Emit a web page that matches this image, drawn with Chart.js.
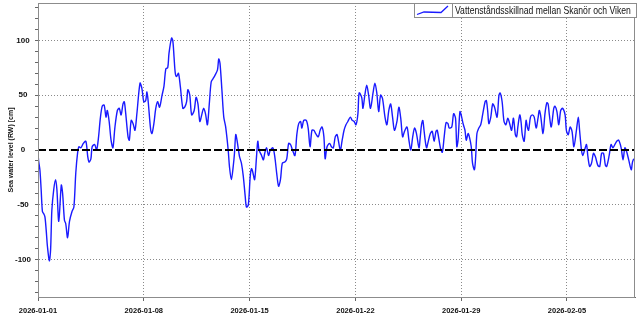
<!DOCTYPE html>
<html>
<head>
<meta charset="utf-8">
<script src="https://cdn.jsdelivr.net/npm/chart.js@4/dist/chart.umd.min.js"></script>
<style>
  html, body { margin: 0; padding: 0; background: #fff; }
  #wrap { width: 639px; height: 320px; }
</style>
</head>
<body>
<div id="wrap"><canvas id="grafico" width="639" height="320"></canvas></div>
<script>
// timmar sedan 2026-01-01 00:00 och nivåskillnad i cm
const hoursSinceStart = [
  0, 1, 3, 5, 7, 9, 11, 13, 15, 18, 20, 22, 25, 28, 30, 33, 37, 39, 42, 44, 47, 50, 54, 57, 60, 63, 65, 68, 72, 76,
  79, 81, 84, 86, 90, 93, 96, 99, 102, 105, 108, 110, 113, 116, 119, 122, 126, 129, 132, 135, 137, 139, 143, 145, 148, 151, 154, 157,
  162, 165, 168, 171, 173, 175, 179, 181, 184, 187, 190, 193, 197, 200, 203, 206, 208, 212, 214, 216, 218, 220, 223, 226, 230, 233,
  236, 238, 241, 244, 248, 251, 254, 257, 260, 263, 266, 269, 272, 275, 278, 281, 285, 287, 289, 292, 295, 298, 302, 304, 307, 310, 312, 314,
  316, 320, 323, 326, 329, 331, 334, 337, 339, 341, 344, 347, 349, 351, 355, 358, 360, 363, 366, 369, 373, 376, 379, 382, 385, 388,
  392, 395, 398, 401, 404, 408, 411, 414, 417, 419, 422, 426, 429, 432, 435, 438, 441, 445, 448, 451, 454, 456, 459, 463, 466, 469, 472, 475,
  480, 483, 486, 489, 492, 496, 499, 502, 505, 508, 510, 514, 516, 519, 522, 525, 528, 532, 535, 538, 541, 544, 547, 551, 554, 557,
  560, 563, 566, 570, 573, 576, 579, 582, 586, 589, 592, 595, 598, 601, 605, 607, 609, 611, 613, 615, 617, 619, 623, 626, 629, 632, 634,
  639, 642, 645, 648, 651, 653, 657, 660, 663, 665, 667, 670, 672, 675, 678, 680, 683, 685, 688, 690, 693, 695, 697, 700, 703, 706,
  710, 712, 714, 716, 719, 722, 725, 729, 732, 734, 737, 740, 743, 746, 749, 752, 755, 758, 760, 762, 765, 767, 769, 772, 775, 777, 779,
  782, 785, 788, 791,
  794, 796, 798, 802, 805, 808, 810, 812, 815, 819, 821, 824, 827, 830, 833, 837, 839, 842, 845, 848, 851, 855, 858, 860, 863, 865,
  868, 871, 873, 876, 879, 882, 885, 889, 892, 895, 898, 901, 903, 907, 910, 913, 916, 919, 922, 926, 929, 932, 935, 938, 942, 944, 946
]
const levelCm = [
  -2, -10, -18, -36, -56, -58, -61, -73, -88, -101, -91, -55, -36, -27, -36, -65, -32, -39, -64, -67, -80, -65, -56, -52, -21, -2, 3, 2, 6, 8,
  -6, -11, -8, 3, 5, 0, 11, 29, 40, 41, 30, 36, 26, 9, 2, 20, 36, 38, 32, 42, 44, 35, 12, 9, 27, 24, 18, 33,
  61, 56, 44, 45, 53, 44, 18, 15, 24, 38, 44, 39, 50, 58, 74, 75, 88, 102, 100, 85, 70, 67, 70, 58, 38, 39,
  44, 55, 50, 32, 36, 48, 42, 26, 32, 38, 33, 23, 42, 62, 65, 68, 73, 83, 79, 55, 30, 21, 0, -15, -27, -15, -3, 14,
  9, -6, -12, -24, -42, -52, -50, -24, -17, -20, -27, -6, 8, 0, -5, -9, -3, 2, -5, 0, 2, -6, -21, -33, -27, -12,
  -11, -8, 6, 5, 0, -5, 14, 24, 26, 20, 27, 27, 20, 3, 18, 18, 15, 12, 18, 21, 12, -8, 3, 6, 3, 2, 12, 14,
  0, 9, 18, 23, 26, 30, 27, 26, 23, 33, 52, 48, 38, 50, 59, 50, 38, 52, 61, 52, 35, 50, 47, 30, 23, 36,
  42, 30, 18, 26, 39, 29, 12, 17, 21, 9, 0, 12, 20, 15, 2, 12, 23, 27, 18, 8, 2, 6, 15, 17, 8, 17, 18,
  2, -2, 12, 25, 24, 20, 21, 33, 29, 3, 9, 35, 32, 24, 18, 9, 15, 12, 3, -12, -18, -6, 15, 20, 23, 32,
  44, 45, 36, 24, 30, 42, 39, 30, 50, 52, 44, 26, 23, 29, 24, 18, 29, 14, 12, 21, 32, 26, 14, 8, 27, 21, 18,
  30, 32, 30, 20,
  29, 36, 32, 15, 33, 43, 42, 32, 21, 38, 40, 35, 23, 36, 38, 32, 18, 14, 21, 17, 3, 18, 30, 18, 0, -5,
  0, 5, -5, -15, -12, -3, -6, -14, -15, -3, -3, -14, -15, -5, 5, 2, 5, 8, 9, 2, -9, 2, -2, -9, -18, -11, -8
]

const tickLabels = ['2026-01-01', '2026-01-08', '2026-01-15', '2026-01-22', '2026-01-29', '2026-02-05']
const tickHours = [0, 168, 336, 504, 672, 840]
const yTicks = [-130, -120, -110, -100, -90, -80, -70, -60, -50, -40, -30, -20, -10, 0, 10, 20, 30, 40, 50, 60, 70, 80, 90, 100, 110, 120, 130]
const xMin = 0
const xMax = 948
const yMin = -134
const yMax = 134
const referenceLevel = 0

const seriesName = 'Vattenståndsskillnad mellan Skanör och Viken'
const axisTitle = 'Sea water level (RW) [cm]'

const fontFam = 'Arial, "Liberation Sans", sans-serif'

const punkter = hoursSinceStart.map((h, i) => ({ x: h, y: levelCm[i] }))

// ram runt ritytan + legendruta uppe till höger
const ramOchLegend = {
  id: 'ramOchLegend',
  afterDraw(chart) {
    const { ctx, chartArea: a } = chart
    ctx.save()
    ctx.strokeStyle = '#8c8c8c'
    ctx.lineWidth = 1
    ctx.strokeRect(a.left + 0.5, a.top + 0.5, a.right - a.left - 1, a.bottom - a.top)

    // legend
    const bx = 414, by = 3, bw = 222, bh = 14
    ctx.fillStyle = '#fff'
    ctx.fillRect(bx, by, bw, bh)
    ctx.strokeStyle = '#8c8c8c'
    ctx.strokeRect(bx + 0.5, by + 0.5, bw, bh)
    ctx.beginPath()
    ctx.moveTo(452.5, by)
    ctx.lineTo(452.5, by + bh)
    ctx.stroke()
    ctx.strokeStyle = '#1a1aff'
    ctx.lineWidth = 1.3
    ctx.beginPath()
    ctx.moveTo(417, 14.5)
    ctx.lineTo(424, 12)
    ctx.lineTo(441, 12.5)
    ctx.lineTo(448, 6)
    ctx.stroke()
    // smal text, som i originalet
    ctx.fillStyle = '#111'
    ctx.font = '10.5px ' + fontFam
    ctx.textBaseline = 'middle'
    ctx.translate(455, by + bh / 2 + 1)
    ctx.scale(0.82, 1)
    ctx.fillText(seriesName, 0, 0)
    ctx.restore()
  }
}

const contenedor = document.getElementById('grafico')
const grafico = new Chart(contenedor, {
  type: 'line',
  data: {
    datasets: [{
      label: 'noll',
      data: [{ x: xMin, y: referenceLevel }, { x: xMax, y: referenceLevel }],
      borderColor: '#000',
      borderWidth: 1.8,
      borderDash: [8, 3],
      pointRadius: 0,
      order: 0
    }, {
      label: seriesName,
      data: punkter,
      borderColor: '#1a1aff',
      borderWidth: 1.4,
      tension: 0.3,
      pointRadius: 0,
      order: 1
    }]
  },
  options: {
    responsive: false,
    animation: false,
    layout: { padding: { top: 3, right: 4, left: 0, bottom: 0 } },
    plugins: { legend: { display: false }, tooltip: { enabled: false } },
    scales: {
      x: {
        type: 'linear',
        min: xMin,
        max: xMax,
        afterBuildTicks: s => { s.ticks = tickHours.map(v => ({ value: v })) },
        afterFit: s => { s.height = 23; s.paddingLeft = 0; s.paddingRight = 0 },
        ticks: {
          autoSkip: false,
          maxRotation: 0,
          padding: 5,
          color: '#111',
          font: { family: fontFam, size: 7.5, weight: 'bold' },
          callback: v => tickLabels[tickHours.indexOf(v)]
        },
        grid: { color: '#8a8a8a', tickColor: '#666', tickLength: 4 },
        border: { color: '#666', dash: [1, 2] }
      },
      y: {
        min: yMin,
        max: yMax,
        afterBuildTicks: s => { s.ticks = yTicks.map(v => ({ value: v })) },
        afterFit: s => { s.width = 38; s.paddingTop = 0; s.paddingBottom = 0 },
        ticks: {
          autoSkip: false,
          crossAlign: 'center',
          padding: 4,
          color: '#111',
          font: { family: fontFam, size: 8, weight: 'bold' },
          callback: v => (v % 50 === 0 ? String(v) : '')
        },
        grid: {
          color: c => (c.tick && c.tick.value % 50 === 0 && c.tick.value !== 0 ? '#8a8a8a' : 'rgba(0,0,0,0)'),
          tickColor: '#666',
          tickLength: 3
        },
        border: { color: '#666', dash: [1, 2] },
        title: {
          display: true,
          text: axisTitle,
          color: '#111',
          padding: { top: 7, bottom: 0 },
          font: { family: fontFam, size: 7, weight: 'bold' }
        }
      }
    }
  },
  plugins: [ramOchLegend]
})
</script>
</body>
</html>
